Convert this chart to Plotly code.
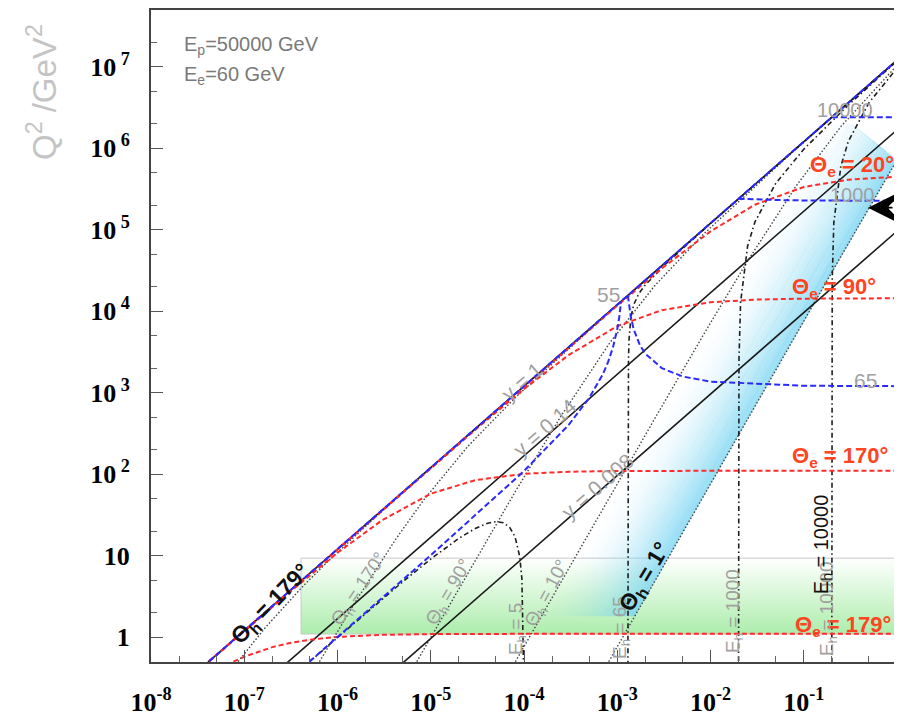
import numpy as np
import plotly.graph_objects as go

# ---------------- values ----------------
X_TICKS = [1e-8, 1e-7, 1e-6, 1e-5, 1e-4, 1e-3, 1e-2, 1e-1, 1.0]
X_TICKTEXT = ["10<sup>-8</sup>", "10<sup>-7</sup>", "10<sup>-6</sup>", "10<sup>-5</sup>",
              "10<sup>-4</sup>", "10<sup>-3</sup>", "10<sup>-2</sup>", "10<sup>-1</sup>", "1"]
Y_TICKS = [1, 10, 1e2, 1e3, 1e4, 1e5, 1e6, 1e7]
Y_TICKTEXT = ["1", "10", "10<sup> 2</sup>", "10<sup> 3</sup>", "10<sup> 4</sup>",
              "10<sup> 5</sup>", "10<sup> 6</sup>", "10<sup> 7</sup>"]

# lines of constant y (black solid)
yline_x = [1e-8, 1.0]
y_1_q2 = [0.12, 1.2e7]
y_014_q2 = [0.0168, 1.68e6]
y_0008_q2 = [9.6e-4, 9.6e4]

# scattered electron energy (blue dashed)
ee_lim_x = [4.2e-8, 1.0]
ee_lim_q2 = [0.504, 1.2e7]
ee55_x = [5e-7, 1e-6, 1e-5, 1e-4, 3e-4, 5e-4, 7e-4, 8e-4, 9e-4, 1e-3, 1.05e-3, 1.1e-3]
ee55_q2 = [0.5, 1.0, 10.08, 109.1, 400, 857.1, 1680, 2400, 3600, 6000, 8400, 13200]
ee65_x = [1.3e-3, 1.35e-3, 1.4e-3, 1.5e-3, 1.75e-3, 2e-3, 3e-3, 5e-3, 1e-2, 0.1, 1.0]
ee65_q2 = [15600, 10800, 8400, 6000, 3818, 3000, 2000, 1579, 1364, 1214.6, 1201.4]
ee1000_x = [0.02, 0.03, 0.05, 0.1, 1.0]
ee1000_q2 = [240000, 235000, 231148, 228340, 225871]
ee10000_x = [0.2, 0.3, 0.5, 1.0]
ee10000_q2 = [2.4e6, 2.3952e6, 2.3913e6, 2.3885e6]

# electron angle (red dashed)
te_x = [4.2e-8, 1e-7, 3e-7, 1e-6, 3e-6, 1e-5, 3e-5, 1e-4, 3e-4, 1e-3, 3e-3, 1e-2, 3e-2, 0.1, 0.3, 1.0]
te20_q2 = [0.504, 1.2, 3.6, 12.0, 36.0, 120.0, 359.7, 1197, 3572, 11697, 33403, 95304,
           202556, 334173, 410356, 445939]
te90_q2 = [0.504, 1.2, 3.6, 11.99, 35.91, 119.0, 351.2, 1108, 2880, 6545, 10286, 12857,
           13846, 14229, 14343, 14383]
te170_q2 = [0.502, 1.187, 3.486, 10.82, 27.13, 57.45, 84.37, 100.9, 106.9, 109.2, 109.9,
            110.1, 110.2, 110.2, 110.2, 110.2]
te179_x = [7.66e-8, 1e-7, 2e-7, 3e-7, 5e-7, 1e-6, 3e-6, 1e-5, 1e-4, 1e-3, 1.0]
te179_q2 = [0.5, 0.573, 0.753, 0.841, 0.927, 1.005, 1.065, 1.087, 1.096, 1.097, 1.097]

# hadron angle (grey dotted)
th179_x = [8.6e-8, 1.667e-7, 4.167e-7, 8.333e-7, 2.5e-6, 8.333e-6, 8.333e-5, 1.0]
th179_q2 = [0.5, 1.292, 4.10, 9.01, 29.0, 98.9, 998.9, 1.2e7]
th170_x = [6.4e-7, 1.667e-6, 4.167e-6, 8.333e-6, 2.5e-5, 8.333e-5, 8.333e-4, 1.0]
th170_q2 = [0.5, 3.071, 15.6, 47.56, 219.4, 900.7, 9891, 1.2e7]
th90_x = [7.083e-6, 1.667e-5, 4.167e-5, 8.333e-5, 2.5e-4, 8.333e-4, 2.5e-3, 8.333e-3, 8.333e-2, 1.0]
th90_q2 = [0.5, 2.74, 16.78, 64.93, 517.2, 4098, 20270, 87412, 985800, 1.1986e7]
th10_x = [8.083e-5, 2.5e-4, 8.333e-4, 2.5e-3, 8.333e-3, 0.025, 0.08333, 0.25, 1.0]
th10_q2 = [0.5, 4.776, 52.87, 470.8, 5047, 41257, 347045, 1.8437e6, 1.0373e7]
th1_x = [8.1025e-4, 2.5e-3, 8.333e-3, 0.025, 0.08333, 0.25, 1.0, 1.667]
th1_q2 = [0.5, 4.759, 52.86, 475.2, 5261, 46857, 716164, 1.913e6]

# hadron energy (black dash-dot)
eh5_x = [5e-7, 1e-6, 5e-6, 1e-5, 2e-5, 3e-5, 4e-5, 5e-5, 6e-5, 7e-5, 8e-5, 9e-5, 9.5e-5, 9.98e-5]
eh5_q2 = [0.498, 0.991, 4.77, 9.08, 16.27, 21.54, 24.83, 26.09, 25.26, 22.3, 17.14, 9.73, 5.16, 0.218]
eh65_x = [1.300002e-3, 1.3002e-3, 1.302e-3, 1.31e-3, 1.32e-3, 1.34e-3, 1.4e-3, 1.5e-3, 1.7e-3,
          2e-3, 3.3e-3, 6.3e-3, 1e-2, 0.1, 1.0]
eh65_q2 = [0.312, 31.1, 306, 1429, 2640, 4594, 8400, 12000, 16320, 21000, 37714, 74118,
           118636, 1.1988e6, 1.1999e7]
eh1000_x = [0.02, 0.02002, 0.0202, 0.021, 0.025, 0.03, 0.05, 0.1, 0.3, 1.0]
eh1000_q2 = [0.51, 255.3, 2552, 12727, 63025, 125000, 368852, 971660, 3.3735e6, 1.1774e7]
eh10000_x = [0.2, 0.20002, 0.2002, 0.202, 0.21, 0.25, 0.3, 0.5, 1.0]
eh10000_q2 = [0.483, 241.4, 2414, 24143, 120690, 602894, 1.2048e6, 3.6087e6, 9.6115e6]

# shaded regions
green_x = [4.06e-7, 1.0]
green_q2 = [1.09, 9.3]
band_width_dex = 1.0
band_top_x = [0.329, 1.0]
band_top_q2 = [2.0e6, 7.16e5]
band_q2_range = [1.8, 2.0e6]

# ---------------- figure ----------------
fig = go.Figure()

# green box with vertical gradient
gx = [green_x[0], green_x[1], green_x[1], green_x[0], green_x[0]]
gy = [green_q2[0], green_q2[0], green_q2[1], green_q2[1], green_q2[0]]
fig.add_trace(go.Scatter(x=gx, y=gy, mode="lines", fill="toself",
                         fillgradient=dict(type="vertical",
                                           colorscale=[[0, "#acedac"], [1, "#ffffff"]]),
                         line=dict(color="#c8c8c8", width=1), hoverinfo="skip"))

# blue band: strips parallel to the Theta_h = 1 deg edge, fading to the left
lx1, lq1 = np.log10(th1_x), np.log10(th1_q2)
tx, tq = np.log10(band_top_x), np.log10(band_top_q2)


def right_edge(lq):
    return np.interp(lq, lq1, lx1)


def top_cut(lq):
    return tx[0] + (tx[1] - tx[0]) * (lq - tq[0]) / (tq[1] - tq[0])


levels = np.linspace(np.log10(band_q2_range[0]), np.log10(band_q2_range[1]), 90)
NSTRIP = 26
for j in range(NSTRIP):
    o_in = band_width_dex * j / NSTRIP
    o_out = band_width_dex * (j + 1) / NSTRIP
    left_side, right_side = [], []
    for lq in levels:
        cut = top_cut(lq)
        r = right_edge(lq)
        a = min(r - o_out, cut)
        b = min(r - o_in + 0.004, cut)
        left_side.append((a, lq))
        right_side.append((b, lq))
    pts = left_side + right_side[::-1] + [left_side[0]]
    xs = [10 ** p[0] for p in pts]
    ys = [10 ** p[1] for p in pts]
    frac = 1 - (j + 0.5) / NSTRIP
    alpha = 0.8 * frac ** 1.8
    fig.add_trace(go.Scatter(x=xs, y=ys, mode="lines", fill="toself",
                             fillcolor=f"rgba(120,212,242,{alpha:.3f})",
                             line=dict(width=0), hoverinfo="skip"))


def line(x, y, color, dash, width):
    fig.add_trace(go.Scatter(x=x, y=y, mode="lines",
                             line=dict(color=color, dash=dash, width=width),
                             hoverinfo="skip"))


# hadron angle: grey dotted
for xx, yy in [(th179_x, th179_q2), (th170_x, th170_q2), (th90_x, th90_q2),
               (th10_x, th10_q2), (th1_x, th1_q2)]:
    line(xx, yy, "#444444", "1.5px,2px", 1.4)

# hadron energy: dash-dot
for xx, yy in [(eh5_x, eh5_q2), (eh65_x, eh65_q2), (eh1000_x, eh1000_q2), (eh10000_x, eh10000_q2)]:
    line(xx, yy, "#1e1e1e", "5px,3px,1.5px,3px", 1.6)

# constant y: black solid
for yy in [y_1_q2, y_014_q2, y_0008_q2]:
    line(yline_x, yy, "#1a1a1a", "solid", 1.6)

# electron angle: red dashed
for xx, yy in [(te_x, te20_q2), (te_x, te90_q2), (te_x, te170_q2), (te179_x, te179_q2)]:
    line(xx, yy, "#ff2a2a", "5px,3px", 2)

# electron energy: blue dashed
for xx, yy in [(ee_lim_x, ee_lim_q2), (ee55_x, ee55_q2), (ee65_x, ee65_q2),
               (ee1000_x, ee1000_q2), (ee10000_x, ee10000_q2)]:
    line(xx, yy, "#2a2aff", "6px,3px", 2)

# ---------------- labels ----------------
SANS = "Liberation Sans, Arial, sans-serif"
ann = []


def lab(text, lx, ly, size, color, angle=0, bold=False, xanchor="center", family=SANS):
    ann.append(dict(text=text, x=lx, y=ly, xref="x", yref="y", showarrow=False,
                    textangle=angle, xanchor=xanchor, yanchor="middle",
                    font=dict(size=size, color=color, family=family,
                              weight="bold" if bold else "normal")))


lab("E<sub>p</sub>=50000 GeV", -7.667, 7.255, 20, "#7a7a7a", xanchor="left")
lab("E<sub>e</sub>=60 GeV", -7.667, 6.887, 20, "#7a7a7a", xanchor="left")

RED = "#ff4422"
lab("Θ<sub>e</sub> = 20°", -0.483, 5.784, 22, RED, bold=True)
lab("Θ<sub>e</sub> = 90°", -0.676, 4.289, 22, RED, bold=True)
lab("Θ<sub>e</sub> = 170°", -0.611, 2.206, 22, RED, bold=True)
lab("Θ<sub>e</sub> = 179°", -0.579, 0.135, 22, RED, bold=True)

GREY = "#a0a0a0"
lab("55", -3.089, 4.203, 21, GREY)
lab("65", -0.343, 3.150, 21, GREY)
lab("1000", -0.472, 5.429, 20, GREY)
lab("10000", -0.558, 6.471, 20, GREY)

lab("y = 1", -4.021, 3.137, 21, GREY, angle=-41)
lab("y = 0.14", -3.775, 2.574, 21, GREY, angle=-41)
lab("y = 0.008", -3.217, 1.850, 21, GREY, angle=-41)

lab("Θ<sub>h</sub> = 170°", -5.759, 0.588, 19, GREY, angle=-56)
lab("Θ<sub>h</sub> = 90°", -4.794, 0.551, 19, GREY, angle=-60)
lab("Θ<sub>h</sub> = 10°", -3.743, 0.539, 19, GREY, angle=-62)

lab("E<sub>h</sub> = 5", -4.075, 0.098, 19, GREY, angle=-90)
lab("E<sub>h</sub> = 65", -2.960, 0.123, 19, GREY, angle=-90)
lab("E<sub>h</sub> = 1000", -1.748, 0.319, 19, GREY, angle=-90)
lab("E<sub>h</sub> = 10000", -0.740, 0.343, 19, GREY, angle=-90)

lab("Θ<sub>h</sub> = 179°", -6.713, 0.404, 23, "#111111", angle=-46, bold=True)
lab("Θ<sub>h</sub> = 1°", -2.702, 0.735, 23, "#111111", angle=-59, bold=True)
lab("E<sub>h</sub> = 10000", -0.804, 1.140, 20, "#111111", angle=-90)

# arrow (barbed head pointing left)
ann.append(dict(x=-0.311, y=5.27, xref="x", yref="y", ax=26, ay=0, showarrow=True,
                arrowhead=3, arrowsize=3.6, arrowwidth=1.8, arrowcolor="#000000", text=""))

# page offset: the html body adds an 8 px margin, so the figure is sized/placed accordingly
FIG_W, FIG_H = 894, 708
ML, MR, MT, MB = 143, 5, 2, 54
PW, PH = FIG_W - ML - MR, FIG_H - MT - MB

# y axis title (pixel position converted to paper coordinates)
ann.append(dict(text="Q<sup>2</sup> /GeV<sup>2</sup>", x=(34 - ML) / PW,
                y=1 - (84 - MT) / PH, xref="paper", yref="paper",
                xanchor="center", yanchor="middle",
                showarrow=False, textangle=-90,
                font=dict(size=33, color="#c4c4c4", family=SANS)))

fig.update_layout(annotations=ann)

axis_common = dict(type="log", showgrid=False, zeroline=False, showline=True,
                   linecolor="#444444", linewidth=2, mirror=True, automargin=False,
                   ticks="inside", ticklen=12, tickwidth=1.2, tickcolor="#555555",
                   minor=dict(ticks="inside", ticklen=6, tickwidth=1, tickcolor="#666666",
                              showgrid=False),
                   tickfont=dict(family="Liberation Serif, Times New Roman, serif",
                                 size=26, color="#000000", weight="bold"))

fig.update_xaxes(range=[-8, 0], tickvals=X_TICKS, ticktext=X_TICKTEXT,
                 ticklabelstandoff=16, **axis_common)
fig.update_yaxes(range=[-0.306, 7.696], tickvals=Y_TICKS, ticktext=Y_TICKTEXT,
                 ticklabelstandoff=14, **axis_common)

fig.update_layout(width=FIG_W, height=FIG_H, margin=dict(l=ML, r=MR, t=MT, b=MB),
                  paper_bgcolor="white", plot_bgcolor="white", showlegend=False,
                  hovermode=False)

fig.write_html("out.html")
